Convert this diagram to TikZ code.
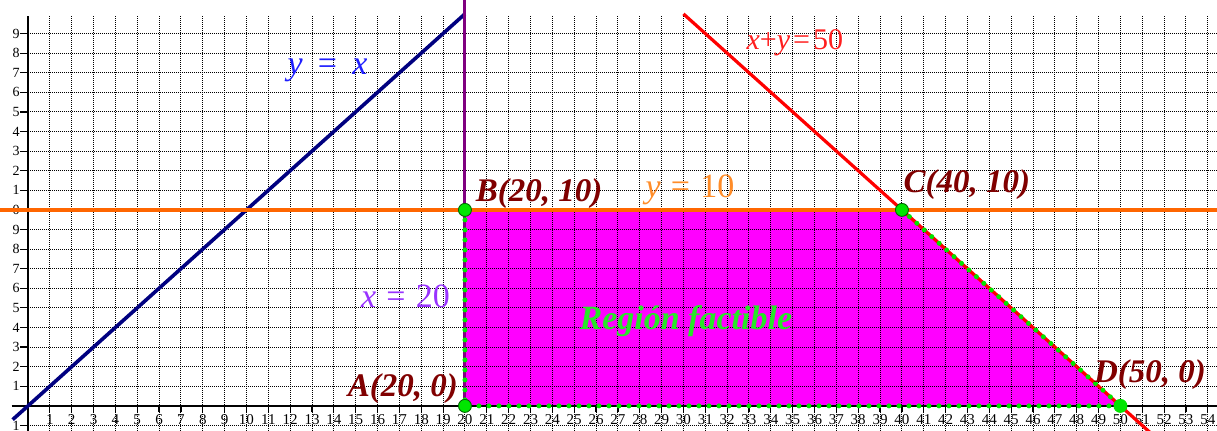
\documentclass[tikz,border=0pt]{standalone}
\usepackage{fontspec}
\setmainfont{Liberation Serif}
\definecolor{navyline}{RGB}{0,0,128}
\definecolor{purpleline}{RGB}{128,0,128}
\definecolor{orangeline}{RGB}{255,102,0}
\definecolor{redline}{RGB}{255,0,0}
\definecolor{regionfill}{RGB}{255,0,255}
\definecolor{ptgreen}{RGB}{0,230,0}
\definecolor{maroonlbl}{RGB}{128,0,0}
\definecolor{bluelbl}{RGB}{30,30,255}
\definecolor{violetlbl}{RGB}{153,51,255}
\definecolor{orangelbl}{RGB}{255,140,40}
\definecolor{redlbl}{RGB}{255,30,30}
\definecolor{greenlbl}{RGB}{40,230,40}
\begin{document}
\begin{tikzpicture}[x=21.85pt,y=19.6pt,
  gridline/.style={black, line width=1pt, dash pattern=on 1pt off 1pt},
  axisline/.style={black, line width=2.6pt},
  tickmark/.style={black, line width=1.2pt},
  xnum/.style={font=\fontsize{15}{15}\selectfont, inner sep=0pt, anchor=base},
  ynum/.style={font=\fontsize{14}{14}\selectfont, inner sep=0pt, anchor=east},
  vertex/.style={circle, fill=ptgreen, draw=black!60!green, line width=0.9pt, minimum size=13pt, inner sep=0pt},
  edgedots/.style={ptgreen, line width=5pt, line cap=round, dash pattern=on 0pt off 10pt},
  ptlabel/.style={text=maroonlbl, font=\fontsize{33}{33}\selectfont\bfseries\itshape, inner sep=0pt, anchor=base},
  eqlabel/.style={font=\fontsize{34}{34}\selectfont, inner sep=0pt, anchor=base},
]
\useasboundingbox (-1.28,-1.28) rectangle (54.42,20.71);
\clip (-1.28,-1.28) rectangle (54.42,20.71);

% feasible region
\coordinate (A) at (20,0);
\coordinate (B) at (20,10);
\coordinate (C) at (40,10);
\coordinate (D) at (50,0);
\fill[regionfill] (A) -- (B) -- (C) -- (D) -- cycle;

% grid
\foreach \i in {1,...,54} \draw[gridline] (\i,-1.28) -- (\i,19.9);
\foreach \j in {-1,1,2,...,19} \draw[gridline] (0,\j) -- (54.42,\j);

% ticks and numbers
\foreach \i in {1,...,54} {
  \draw[tickmark] (\i,0) -- (\i,-0.3);
  \node[xnum] (xn\i) at (\i,-0.97) {\i};
}
\foreach \j/\d in {-1/1,1/1,2/2,3/3,4/4,5/5,6/6,7/7,8/8,9/9,10/0,11/1,12/2,13/3,14/4,15/5,16/6,17/7,18/8,19/9} {
  \draw[tickmark] (0,\j) -- (-0.35,\j);
  \node[ynum] (yn\j) at (-0.37,\j) {\d};
}

% axes
\coordinate (xax0) at (-0.75,0);
\coordinate (xax1) at (54.42,0);
\coordinate (yax0) at (0,-1.28);
\coordinate (yax1) at (0,19.9);
\draw[axisline] (xax0) -- (xax1);
\draw[axisline] (yax0) -- (yax1);

% constraint lines
\coordinate (yx0) at (-0.7,-0.7);
\coordinate (yx1) at (20,20);
\draw[navyline, line width=3.6pt] (yx0) -- (yx1);
\coordinate (x20top) at (20,20.71);
\draw[purpleline, line width=3pt] (A) -- (x20top);
\coordinate (s0) at (30,20);
\coordinate (s1) at (51.6,-1.6);
\draw[redline, line width=3.2pt] (s0) -- (s1);
\coordinate (y10a) at (-1.28,10);
\coordinate (y10b) at (54.42,10);
\draw[orangeline, line width=4pt] (y10a) -- (y10b);

% boundary dots
\draw[edgedots] (B) -- (A) -- (D);
\draw[edgedots] (C) -- (D);

% vertices
\node[vertex] (pA) at (A) {};
\node[vertex] (pB) at (B) {};
\node[vertex] (pC) at (C) {};
\node[vertex, draw=ptgreen] (pD) at (D) {};

% labels
\node[ptlabel] (lA) at (17.16,0.46) {A(20, 0)};
\node[ptlabel] (lB) at (23.39,10.41) {B(20, 10)};
\node[ptlabel] (lC) at (42.97,10.87) {C(40, 10)};
\node[ptlabel] (lD) at (51.35,1.17) {D(50, 0)};

\node[eqlabel, text=bluelbl] (eyx) at (13.71,16.89) {\textit{y}\hspace{0.45em}=\hspace{0.45em}\textit{x}};
\node[eqlabel, text=violetlbl] (ex20) at (17.28,5.0) {\textit{x}\hspace{0.3em}=\hspace{0.3em}20};
\node[eqlabel, text=orangelbl] (ey10) at (30.3,10.61) {\textit{y}\hspace{0.3em}=\hspace{0.3em}10};
\node[eqlabel, text=redlbl, font=\fontsize{30}{30}\selectfont] (es50) at (35.1,18.16) {\textit{x}+\textit{y}\hspace{0.1em}=\hspace{0.1em}50};
\node[eqlabel, text=greenlbl, font=\fontsize{34}{34}\selectfont\bfseries\itshape] (reg) at (30.11,3.88) {Región factible};
\end{tikzpicture}
\end{document}
